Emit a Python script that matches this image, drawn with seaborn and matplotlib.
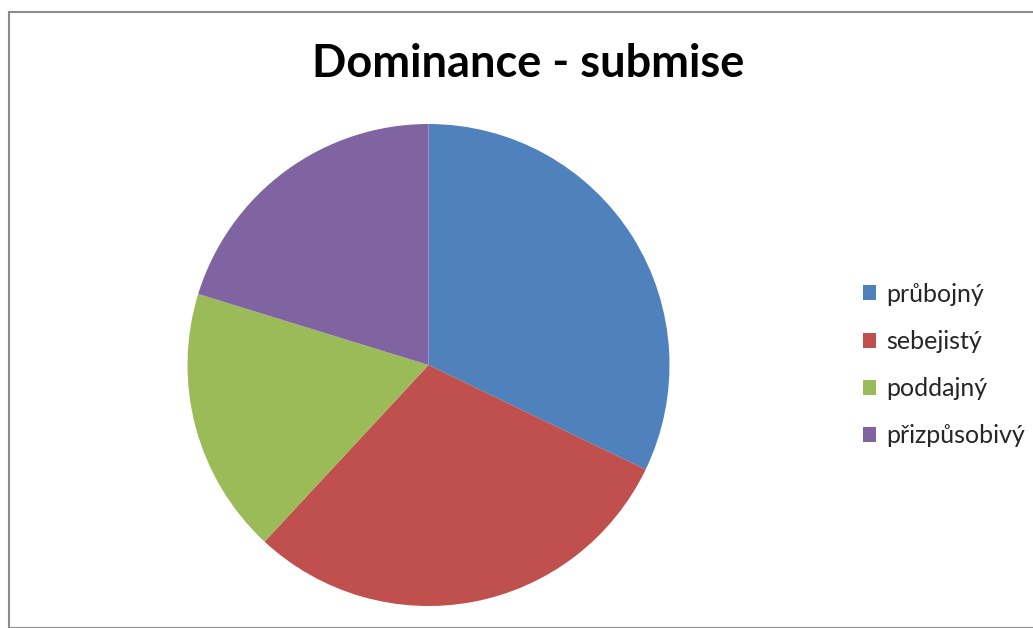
import matplotlib
matplotlib.use("Agg")
import matplotlib.pyplot as plt
import seaborn as sns
from matplotlib.patches import Patch, Rectangle

categories = ["průbojný", "sebejistý", "poddajný", "přizpůsobivý"]
values = [27, 25, 15, 17]
colors = ["#4F81BD", "#C0504D", "#9BBB59", "#8064A2"]
title = "Dominance - submise"

sns.set_theme(style="white")
plt.rcParams['font.family'] = ['Lato', 'DejaVu Sans']

W, H = 1033, 628
fig = plt.figure(figsize=(W / 100, H / 100), dpi=100)

# outer chart frame
fig.patches.append(Rectangle((9 / W, 0), (W - 9) / W + 0.01, (H - 12) / H,
                             transform=fig.transFigure, fill=False,
                             edgecolor="#8c8c8c", linewidth=1.5))

cx, cy, r = 428.5, 365, 241
ax = fig.add_axes([(cx - r) / W, (H - cy - r) / H, 2 * r / W, 2 * r / H])
ax.pie(values, colors=colors, startangle=90, counterclock=False,
       wedgeprops=dict(linewidth=0))
ax.set_xlim(-1, 1)
ax.set_ylim(-1, 1)
ax.set_aspect("equal")
ax.axis("off")

fig.text(528 / W, 1 - 64 / H, title, ha="center", va="center",
         fontsize=32.5, fontweight="bold", color="black")

handles = [Patch(facecolor=c, edgecolor="none") for c in colors]
fig.legend(handles, categories, loc="center left",
           bbox_to_anchor=(840 / W, 1 - 365 / H), frameon=False,
           fontsize=18, handlelength=0.55, handleheight=0.55,
           handletextpad=0.4, labelspacing=0.97)

fig.savefig("out.png", dpi=100)
